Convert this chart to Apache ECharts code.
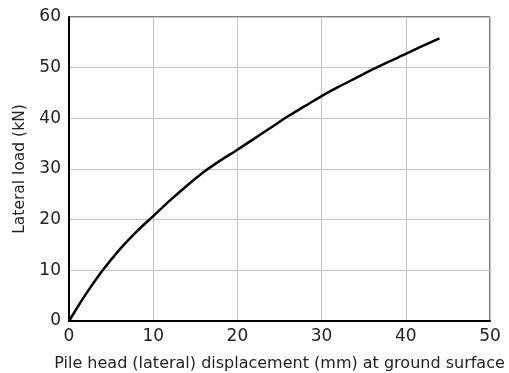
<!DOCTYPE html>
<html><head><meta charset="utf-8">
<script src="https://cdn.jsdelivr.net/npm/echarts@6/dist/echarts.min.js"></script>
<style>html,body{margin:0;padding:0;background:#fff}#c{width:509px;height:373px}</style>
</head><body><div id="c"></div>
<script>
const displacement = [0, 1, 2, 4, 6, 8, 10, 12, 14, 16, 18, 20, 22, 24, 26, 28, 30, 32, 34, 36, 38, 40, 42, 44];
const load = [0, 2.7, 5.3, 10, 14.1, 17.6, 20.7, 23.8, 26.7, 29.4, 31.7, 33.8, 36.0, 38.2, 40.4, 42.4, 44.4, 46.2, 47.9, 49.6, 51.2, 52.7, 54.3, 55.8];
const xName = 'Pile head (lateral) displacement (mm) at ground surface';
const yName = 'Lateral load (kN)';

const chart = echarts.init(document.getElementById('c'), null, {renderer: 'canvas'});
const font = 'DejaVu Sans';
chart.setOption({
  animation: false,
  grid: {left: 69, top: 17, width: 421, height: 304, show: true, borderColor: '#000', borderWidth: 1, backgroundColor: 'transparent', containLabel: false, outerBoundsMode: 'none'},
  xAxis: {
    type: 'value', min: 0, max: 50, interval: 10,
    name: xName, nameLocation: 'middle', nameGap: 35,
    nameTextStyle: {color: '#222', fontSize: 16, fontFamily: font},
    axisLine: {show: true, lineStyle: {color: '#000', width: 2}},
    axisTick: {show: false},
    axisLabel: {color: '#222', fontSize: 17, fontFamily: font, margin: 7},
    splitLine: {show: true, lineStyle: {color: '#c4c4c4', width: 1}}
  },
  yAxis: {
    type: 'value', min: 0, max: 60, interval: 10,
    name: yName, nameLocation: 'middle', nameGap: 40,
    nameTextStyle: {color: '#222', fontSize: 15.5, fontFamily: font},
    axisLine: {show: true, lineStyle: {color: '#000', width: 2}},
    axisTick: {show: false},
    axisLabel: {color: '#222', fontSize: 17, fontFamily: font, margin: 8},
    splitLine: {show: true, lineStyle: {color: '#c4c4c4', width: 1}}
  },
  series: [{
    type: 'line', smooth: 0.3, symbol: 'none',
    data: displacement.map((d, i) => [d, load[i]]),
    lineStyle: {color: '#000', width: 2.5}
  }]
});
</script></body></html>
